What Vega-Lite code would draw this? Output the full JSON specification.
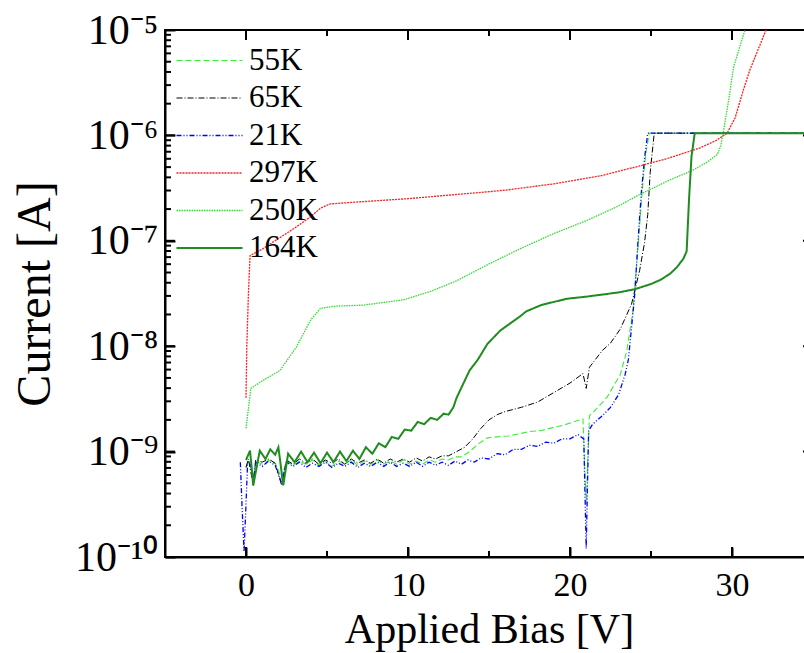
{
 "$schema": "https://vega.github.io/schema/vega-lite/v6.json",
 "width": 648, "height": 527,
 "autosize": "none",
 "padding": {"left": 165, "top": 30, "right": -9, "bottom": 96},
 "background": "white",
 "config": {
  "view": {"stroke": "black", "strokeWidth": 2},
  "font": "Liberation Serif",
  "legend": {"orient": "none", "legendX": 29, "legendY": 15, "symbolType": "M-3,0H3", "symbolSize": 484, "labelFontSize": 31, "labelFont": "Liberation Serif", "labelColor": "black", "rowPadding": 5.5, "padding": 0, "labelOffset": 24, "labelLimit": 200}
 },
 "datasets": {
  "curves": [
  {"s":"55K","v":0.0,"i":7.08e-10},{"s":"55K","v":0.15,"i":8.32e-10},{"s":"55K","v":0.45,"i":5.62e-10},{"s":"55K","v":0.6,"i":8.13e-10},{"s":"55K","v":1.0,"i":7.59e-10},{"s":"55K","v":1.4,"i":8.32e-10},{"s":"55K","v":1.8,"i":7.76e-10},{"s":"55K","v":2.2,"i":5.62e-10},{"s":"55K","v":2.5,"i":8.13e-10},{"s":"55K","v":2.9,"i":7.41e-10},{"s":"55K","v":3.3,"i":8.13e-10},{"s":"55K","v":3.7,"i":7.59e-10},{"s":"55K","v":4.1,"i":8.32e-10},{"s":"55K","v":4.5,"i":7.41e-10},{"s":"55K","v":4.9,"i":8.13e-10},{"s":"55K","v":5.3,"i":7.24e-10},{"s":"55K","v":5.7,"i":8.13e-10},{"s":"55K","v":6.1,"i":7.59e-10},{"s":"55K","v":6.5,"i":8.32e-10},{"s":"55K","v":6.9,"i":7.41e-10},{"s":"55K","v":7.3,"i":8.13e-10},{"s":"55K","v":7.7,"i":7.59e-10},{"s":"55K","v":8.1,"i":8.32e-10},{"s":"55K","v":8.5,"i":7.59e-10},{"s":"55K","v":8.9,"i":8.13e-10},{"s":"55K","v":9.3,"i":7.59e-10},{"s":"55K","v":9.7,"i":8.32e-10},{"s":"55K","v":10.1,"i":7.59e-10},{"s":"55K","v":10.5,"i":8.13e-10},{"s":"55K","v":10.9,"i":7.59e-10},{"s":"55K","v":11.3,"i":8.32e-10},{"s":"55K","v":11.7,"i":7.94e-10},{"s":"55K","v":12.1,"i":8.51e-10},{"s":"55K","v":12.5,"i":8.32e-10},{"s":"55K","v":12.9,"i":8.91e-10},{"s":"55K","v":13.3,"i":8.91e-10},{"s":"55K","v":13.8,"i":1.0e-9},{"s":"55K","v":14.3,"i":1.17e-9},{"s":"55K","v":14.9,"i":1.35e-9},{"s":"55K","v":15.5,"i":1.38e-9},{"s":"55K","v":16.2,"i":1.41e-9},{"s":"55K","v":16.9,"i":1.48e-9},{"s":"55K","v":17.5,"i":1.55e-9},{"s":"55K","v":18.2,"i":1.58e-9},{"s":"55K","v":19.0,"i":1.70e-9},{"s":"55K","v":19.6,"i":1.78e-9},{"s":"55K","v":20.2,"i":1.91e-9},{"s":"55K","v":20.8,"i":2.04e-9},{"s":"55K","v":21.0,"i":3.16e-10},{"s":"55K","v":21.2,"i":2.19e-9},{"s":"55K","v":21.6,"i":2.51e-9},{"s":"55K","v":22.3,"i":3.31e-9},{"s":"55K","v":23.1,"i":5.37e-9},{"s":"55K","v":23.5,"i":8.91e-9},{"s":"55K","v":23.9,"i":2.24e-8},{"s":"55K","v":24.1,"i":5.62e-8},{"s":"55K","v":24.3,"i":1.41e-7},{"s":"55K","v":24.5,"i":3.55e-7},{"s":"55K","v":24.7,"i":7.08e-7},{"s":"55K","v":24.9,"i":1.05e-6},{"s":"55K","v":35,"i":1.05e-6},
  {"s":"65K","v":0.0,"i":7.08e-10},{"s":"65K","v":0.15,"i":8.51e-10},{"s":"65K","v":0.45,"i":4.79e-10},{"s":"65K","v":0.6,"i":8.32e-10},{"s":"65K","v":1.0,"i":7.94e-10},{"s":"65K","v":1.4,"i":8.51e-10},{"s":"65K","v":1.8,"i":7.76e-10},{"s":"65K","v":2.2,"i":4.79e-10},{"s":"65K","v":2.5,"i":8.32e-10},{"s":"65K","v":2.9,"i":7.59e-10},{"s":"65K","v":3.3,"i":8.51e-10},{"s":"65K","v":3.7,"i":7.76e-10},{"s":"65K","v":4.1,"i":8.51e-10},{"s":"65K","v":4.5,"i":7.59e-10},{"s":"65K","v":4.9,"i":8.32e-10},{"s":"65K","v":5.3,"i":7.76e-10},{"s":"65K","v":5.7,"i":8.51e-10},{"s":"65K","v":6.1,"i":7.59e-10},{"s":"65K","v":6.5,"i":8.51e-10},{"s":"65K","v":6.9,"i":7.76e-10},{"s":"65K","v":7.3,"i":8.32e-10},{"s":"65K","v":7.7,"i":7.76e-10},{"s":"65K","v":8.1,"i":8.51e-10},{"s":"65K","v":8.5,"i":7.76e-10},{"s":"65K","v":8.9,"i":8.51e-10},{"s":"65K","v":9.3,"i":7.94e-10},{"s":"65K","v":9.7,"i":8.51e-10},{"s":"65K","v":10.1,"i":7.94e-10},{"s":"65K","v":10.5,"i":8.71e-10},{"s":"65K","v":10.9,"i":8.13e-10},{"s":"65K","v":11.3,"i":8.91e-10},{"s":"65K","v":11.7,"i":8.51e-10},{"s":"65K","v":12.1,"i":9.12e-10},{"s":"65K","v":12.5,"i":9.12e-10},{"s":"65K","v":13.0,"i":1.0e-9},{"s":"65K","v":13.5,"i":1.10e-9},{"s":"65K","v":14.0,"i":1.32e-9},{"s":"65K","v":14.5,"i":1.66e-9},{"s":"65K","v":15.0,"i":2.0e-9},{"s":"65K","v":15.5,"i":2.24e-9},{"s":"65K","v":16.0,"i":2.40e-9},{"s":"65K","v":17.0,"i":2.63e-9},{"s":"65K","v":18.0,"i":2.95e-9},{"s":"65K","v":19.0,"i":3.63e-9},{"s":"65K","v":20.0,"i":4.47e-9},{"s":"65K","v":20.8,"i":5.50e-9},{"s":"65K","v":21.0,"i":3.98e-9},{"s":"65K","v":21.2,"i":6.31e-9},{"s":"65K","v":22.0,"i":9.12e-9},{"s":"65K","v":22.5,"i":1.07e-8},{"s":"65K","v":23.1,"i":1.45e-8},{"s":"65K","v":23.8,"i":2.51e-8},{"s":"65K","v":24.3,"i":5.25e-8},{"s":"65K","v":24.6,"i":9.55e-8},{"s":"65K","v":24.8,"i":1.78e-7},{"s":"65K","v":24.95,"i":4.47e-7},{"s":"65K","v":25.2,"i":1.05e-6},{"s":"65K","v":35,"i":1.05e-6},
  {"s":"21K","v":-0.35,"i":7.94e-10},{"s":"21K","v":-0.25,"i":3.16e-10},{"s":"21K","v":-0.12,"i":1.12e-10},{"s":"21K","v":0.0,"i":3.16e-10},{"s":"21K","v":0.1,"i":7.94e-10},{"s":"21K","v":0.3,"i":7.41e-10},{"s":"21K","v":0.45,"i":5.01e-10},{"s":"21K","v":0.6,"i":7.94e-10},{"s":"21K","v":1.0,"i":7.24e-10},{"s":"21K","v":1.4,"i":8.13e-10},{"s":"21K","v":1.8,"i":7.41e-10},{"s":"21K","v":2.2,"i":5.01e-10},{"s":"21K","v":2.5,"i":7.94e-10},{"s":"21K","v":2.9,"i":7.24e-10},{"s":"21K","v":3.3,"i":7.94e-10},{"s":"21K","v":3.7,"i":7.08e-10},{"s":"21K","v":4.1,"i":7.76e-10},{"s":"21K","v":4.5,"i":7.24e-10},{"s":"21K","v":4.9,"i":7.94e-10},{"s":"21K","v":5.3,"i":7.08e-10},{"s":"21K","v":5.7,"i":7.76e-10},{"s":"21K","v":6.1,"i":7.24e-10},{"s":"21K","v":6.5,"i":7.94e-10},{"s":"21K","v":6.9,"i":7.08e-10},{"s":"21K","v":7.3,"i":7.76e-10},{"s":"21K","v":7.7,"i":7.24e-10},{"s":"21K","v":8.1,"i":7.94e-10},{"s":"21K","v":8.5,"i":7.24e-10},{"s":"21K","v":8.9,"i":7.94e-10},{"s":"21K","v":9.3,"i":7.24e-10},{"s":"21K","v":9.7,"i":7.76e-10},{"s":"21K","v":10.1,"i":7.24e-10},{"s":"21K","v":10.5,"i":7.94e-10},{"s":"21K","v":10.9,"i":7.24e-10},{"s":"21K","v":11.3,"i":7.94e-10},{"s":"21K","v":11.7,"i":7.41e-10},{"s":"21K","v":12.1,"i":7.94e-10},{"s":"21K","v":12.5,"i":7.41e-10},{"s":"21K","v":12.9,"i":8.13e-10},{"s":"21K","v":13.3,"i":7.59e-10},{"s":"21K","v":13.7,"i":8.32e-10},{"s":"21K","v":14.1,"i":7.94e-10},{"s":"21K","v":14.5,"i":8.71e-10},{"s":"21K","v":15.0,"i":8.51e-10},{"s":"21K","v":15.5,"i":9.55e-10},{"s":"21K","v":16.0,"i":9.33e-10},{"s":"21K","v":16.5,"i":1.05e-9},{"s":"21K","v":17.0,"i":1.05e-9},{"s":"21K","v":17.5,"i":1.15e-9},{"s":"21K","v":18.0,"i":1.12e-9},{"s":"21K","v":18.5,"i":1.23e-9},{"s":"21K","v":19.0,"i":1.20e-9},{"s":"21K","v":19.5,"i":1.32e-9},{"s":"21K","v":20.0,"i":1.32e-9},{"s":"21K","v":20.5,"i":1.45e-9},{"s":"21K","v":20.85,"i":1.32e-9},{"s":"21K","v":21.0,"i":1.20e-10},{"s":"21K","v":21.15,"i":1.58e-9},{"s":"21K","v":21.4,"i":1.82e-9},{"s":"21K","v":22.0,"i":2.19e-9},{"s":"21K","v":22.5,"i":2.63e-9},{"s":"21K","v":23.0,"i":3.47e-9},{"s":"21K","v":23.4,"i":5.37e-9},{"s":"21K","v":23.6,"i":7.41e-9},{"s":"21K","v":23.8,"i":1.51e-8},{"s":"21K","v":24.0,"i":3.16e-8},{"s":"21K","v":24.2,"i":1.0e-7},{"s":"21K","v":24.4,"i":2.82e-7},{"s":"21K","v":24.6,"i":6.03e-7},{"s":"21K","v":24.8,"i":1.05e-6},{"s":"21K","v":35,"i":1.05e-6},
  {"s":"297K","v":0.0,"i":3.24e-9},{"s":"297K","v":0.05,"i":1.0e-8},{"s":"297K","v":0.15,"i":3.16e-8},{"s":"297K","v":0.25,"i":7.24e-8},{"s":"297K","v":1.0,"i":8.32e-8},{"s":"297K","v":2.0,"i":1.05e-7},{"s":"297K","v":3.0,"i":1.32e-7},{"s":"297K","v":4.0,"i":1.70e-7},{"s":"297K","v":4.6,"i":2.04e-7},{"s":"297K","v":5.2,"i":2.24e-7},{"s":"297K","v":7.0,"i":2.34e-7},{"s":"297K","v":10.0,"i":2.51e-7},{"s":"297K","v":13.0,"i":2.75e-7},{"s":"297K","v":16.0,"i":3.02e-7},{"s":"297K","v":19.0,"i":3.47e-7},{"s":"297K","v":22.0,"i":4.17e-7},{"s":"297K","v":24.3,"i":5.13e-7},{"s":"297K","v":26.0,"i":6.03e-7},{"s":"297K","v":28.0,"i":7.59e-7},{"s":"297K","v":29.0,"i":8.91e-7},{"s":"297K","v":29.7,"i":1.05e-6},{"s":"297K","v":30.2,"i":1.48e-6},{"s":"297K","v":30.7,"i":2.69e-6},{"s":"297K","v":31.1,"i":4.17e-6},{"s":"297K","v":31.6,"i":6.46e-6},{"s":"297K","v":32.1,"i":1.0e-5},{"s":"297K","v":32.5,"i":1.41e-5},
  {"s":"250K","v":0.0,"i":1.66e-9},{"s":"250K","v":0.3,"i":3.98e-9},{"s":"250K","v":1.0,"i":4.68e-9},{"s":"250K","v":2.1,"i":5.89e-9},{"s":"250K","v":3.1,"i":9.77e-9},{"s":"250K","v":4.0,"i":1.78e-8},{"s":"250K","v":4.6,"i":2.29e-8},{"s":"250K","v":5.5,"i":2.40e-8},{"s":"250K","v":7.2,"i":2.45e-8},{"s":"250K","v":9.7,"i":2.75e-8},{"s":"250K","v":11.4,"i":3.31e-8},{"s":"250K","v":13.0,"i":4.17e-8},{"s":"250K","v":15.0,"i":6.03e-8},{"s":"250K","v":17.0,"i":8.51e-8},{"s":"250K","v":19.0,"i":1.17e-7},{"s":"250K","v":21.0,"i":1.55e-7},{"s":"250K","v":23.0,"i":2.14e-7},{"s":"250K","v":24.3,"i":2.75e-7},{"s":"250K","v":26.2,"i":3.80e-7},{"s":"250K","v":27.6,"i":4.68e-7},{"s":"250K","v":28.5,"i":5.62e-7},{"s":"250K","v":29.1,"i":6.61e-7},{"s":"250K","v":29.3,"i":7.94e-7},{"s":"250K","v":29.45,"i":1.05e-6},{"s":"250K","v":29.8,"i":2.19e-6},{"s":"250K","v":30.1,"i":4.47e-6},{"s":"250K","v":30.8,"i":1.0e-5},{"s":"250K","v":31.1,"i":1.26e-5},
  {"s":"164K","v":0.0,"i":8.32e-10},{"s":"164K","v":0.25,"i":1.02e-9},{"s":"164K","v":0.45,"i":4.79e-10},{"s":"164K","v":0.85,"i":1.02e-9},{"s":"164K","v":1.2,"i":8.51e-10},{"s":"164K","v":1.5,"i":1.05e-9},{"s":"164K","v":1.8,"i":9.33e-10},{"s":"164K","v":2.0,"i":1.10e-9},{"s":"164K","v":2.3,"i":4.79e-10},{"s":"164K","v":2.6,"i":9.55e-10},{"s":"164K","v":3.0,"i":7.94e-10},{"s":"164K","v":3.4,"i":1.0e-9},{"s":"164K","v":3.8,"i":7.94e-10},{"s":"164K","v":4.2,"i":9.77e-10},{"s":"164K","v":4.6,"i":7.76e-10},{"s":"164K","v":5.0,"i":9.77e-10},{"s":"164K","v":5.4,"i":7.94e-10},{"s":"164K","v":5.8,"i":1.0e-9},{"s":"164K","v":6.2,"i":8.13e-10},{"s":"164K","v":6.6,"i":1.02e-9},{"s":"164K","v":7.0,"i":8.51e-10},{"s":"164K","v":7.4,"i":1.10e-9},{"s":"164K","v":7.8,"i":9.55e-10},{"s":"164K","v":8.2,"i":1.20e-9},{"s":"164K","v":8.6,"i":1.10e-9},{"s":"164K","v":9.0,"i":1.38e-9},{"s":"164K","v":9.4,"i":1.32e-9},{"s":"164K","v":9.8,"i":1.62e-9},{"s":"164K","v":10.2,"i":1.58e-9},{"s":"164K","v":10.6,"i":1.91e-9},{"s":"164K","v":11.0,"i":1.82e-9},{"s":"164K","v":11.4,"i":2.09e-9},{"s":"164K","v":11.8,"i":2.0e-9},{"s":"164K","v":12.2,"i":2.29e-9},{"s":"164K","v":12.5,"i":2.24e-9},{"s":"164K","v":12.8,"i":2.63e-9},{"s":"164K","v":13.0,"i":3.24e-9},{"s":"164K","v":13.8,"i":5.89e-9},{"s":"164K","v":14.3,"i":7.41e-9},{"s":"164K","v":14.9,"i":1.05e-8},{"s":"164K","v":15.7,"i":1.41e-8},{"s":"164K","v":16.9,"i":1.91e-8},{"s":"164K","v":17.3,"i":2.14e-8},{"s":"164K","v":18.2,"i":2.45e-8},{"s":"164K","v":19.0,"i":2.63e-8},{"s":"164K","v":19.8,"i":2.82e-8},{"s":"164K","v":21.0,"i":2.95e-8},{"s":"164K","v":22.0,"i":3.09e-8},{"s":"164K","v":23.0,"i":3.24e-8},{"s":"164K","v":24.0,"i":3.47e-8},{"s":"164K","v":25.0,"i":3.89e-8},{"s":"164K","v":25.6,"i":4.27e-8},{"s":"164K","v":26.2,"i":4.90e-8},{"s":"164K","v":26.6,"i":5.62e-8},{"s":"164K","v":27.0,"i":6.76e-8},{"s":"164K","v":27.2,"i":7.94e-8},{"s":"164K","v":27.35,"i":2.51e-7},{"s":"164K","v":27.5,"i":6.31e-7},{"s":"164K","v":27.7,"i":1.05e-6},{"s":"164K","v":35,"i":1.05e-6}
  ],
  "xmajor": [{"t":0},{"t":10},{"t":20},{"t":30}],
  "xminor": [{"t":5},{"t":15},{"t":25}],
  "ymajor": [{"t":1e-9},{"t":1e-8},{"t":1e-7},{"t":1e-6}],
  "yminor": [{"t":2e-10},{"t":3e-10},{"t":4e-10},{"t":5e-10},{"t":6e-10},{"t":7e-10},{"t":8e-10},{"t":9e-10},{"t":2e-9},{"t":3e-9},{"t":4e-9},{"t":5e-9},{"t":6e-9},{"t":7e-9},{"t":8e-9},{"t":9e-9},{"t":2e-8},{"t":3e-8},{"t":4e-8},{"t":5e-8},{"t":6e-8},{"t":7e-8},{"t":8e-8},{"t":9e-8},{"t":2e-7},{"t":3e-7},{"t":4e-7},{"t":5e-7},{"t":6e-7},{"t":7e-7},{"t":8e-7},{"t":9e-7},{"t":2e-6},{"t":3e-6},{"t":4e-6},{"t":5e-6},{"t":6e-6},{"t":7e-6},{"t":8e-6},{"t":9e-6}]
 },
 "layer": [
  {
   "data": {"name": "curves"},
   "mark": {"type": "line", "clip": true, "strokeCap": "butt"},
   "encoding": {
    "x": {"field": "v", "type": "quantitative",
      "scale": {"domain": [-5, 35], "nice": false, "zero": false},
      "axis": {"orient": "bottom", "values": [0,10,20,30], "tickSize": -10, "tickColor": "#000000", "tickWidth": 2, "domainColor": "#000000", "domainWidth": 2, "grid": false,
        "labelFontSize": 34, "labelFont": "Liberation Serif", "labelColor": "black", "labelPadding": 21,
        "labelFlush": false, "labelOverlap": false,
        "title": "Applied Bias [V]", "titleFontSize": 42, "titleFont": "Liberation Serif", "titleFontWeight": "normal", "titleColor": "black", "titlePadding": 7}},
    "y": {"field": "i", "type": "quantitative",
      "scale": {"type": "log", "domain": [1e-10, 1e-5], "nice": false},
      "axis": {"orient": "left", "tickSize": -10, "tickColor": "#000000", "tickWidth": 2, "domainColor": "#000000", "domainWidth": 2, "grid": false,
        "values": [1e-10,1e-9,1e-8,1e-7,1e-6,1e-5],
        "labelExpr": "round(log(datum.value)/LN10) == -5 ? '10⁻⁵' : round(log(datum.value)/LN10) == -6 ? '10⁻⁶' : round(log(datum.value)/LN10) == -7 ? '10⁻⁷' : round(log(datum.value)/LN10) == -8 ? '10⁻⁸' : round(log(datum.value)/LN10) == -9 ? '10⁻⁹' : '10⁻¹⁰'",
        "labelFontSize": 42, "labelFont": "Liberation Serif", "labelColor": "black", "labelPadding": 17,
        "labelFlush": false, "labelOverlap": false,
        "title": "Current [A]", "titleFontSize": 48, "titleFont": "Liberation Serif", "titleFontWeight": "normal", "titleColor": "black", "titlePadding": 15}},
    "color": {"field": "s", "type": "nominal", "title": null,
      "scale": {"domain": ["55K","65K","21K","297K","250K","164K"], "range": ["#3cec3c","#000000","#0000ff","#ff2020","#30dc30","#1f8c1f"]}},
    "strokeDash": {"field": "s", "type": "nominal", "title": null,
      "scale": {"domain": ["55K","65K","21K","297K","250K","164K"], "range": [[6,3],[6,2,1,2],[5,2,1,2,1,2],[2,1],[1.5,1],[1,0]]}},
    "strokeWidth": {"field": "s", "type": "nominal", "title": null,
      "scale": {"type": "ordinal", "domain": ["55K","65K","21K","297K","250K","164K"], "range": [1.1,1,1.3,1.3,1.3,2]}}
   }
  },
  {
   "data": {"name": "xmajor"},
   "mark": {"type": "tick", "orient": "vertical", "size": 20, "thickness": 2, "color": "black", "opacity": 1, "clip": true},
   "encoding": {"x": {"field": "t", "type": "quantitative", "axis": null}, "y": {"datum": 1e-10, "type": "quantitative", "axis": null}}
  },
  {
   "data": {"name": "xmajor"},
   "mark": {"type": "tick", "orient": "vertical", "size": 20, "thickness": 2, "color": "black", "opacity": 1, "clip": true},
   "encoding": {"x": {"field": "t", "type": "quantitative", "axis": null}, "y": {"datum": 1e-5, "type": "quantitative", "axis": null}}
  },
  {
   "data": {"name": "xminor"},
   "mark": {"type": "tick", "orient": "vertical", "size": 12, "thickness": 2, "color": "black", "opacity": 1, "clip": true},
   "encoding": {"x": {"field": "t", "type": "quantitative", "axis": null}, "y": {"datum": 1e-10, "type": "quantitative", "axis": null}}
  },
  {
   "data": {"name": "xminor"},
   "mark": {"type": "tick", "orient": "vertical", "size": 12, "thickness": 2, "color": "black", "opacity": 1, "clip": true},
   "encoding": {"x": {"field": "t", "type": "quantitative", "axis": null}, "y": {"datum": 1e-5, "type": "quantitative", "axis": null}}
  },
  {
   "data": {"name": "ymajor"},
   "mark": {"type": "tick", "orient": "horizontal", "size": 20, "thickness": 2, "color": "black", "opacity": 1, "clip": true},
   "encoding": {"y": {"field": "t", "type": "quantitative", "axis": null}, "x": {"datum": -5, "type": "quantitative", "axis": null}}
  },
  {
   "data": {"name": "yminor"},
   "mark": {"type": "tick", "orient": "horizontal", "size": 12, "thickness": 2, "color": "black", "opacity": 1, "clip": true},
   "encoding": {"y": {"field": "t", "type": "quantitative", "axis": null}, "x": {"datum": -5, "type": "quantitative", "axis": null}}
  },
  {
   "data": {"name": "ymajor"},
   "mark": {"type": "tick", "orient": "horizontal", "size": 20, "thickness": 2, "color": "black", "opacity": 1, "clip": true},
   "encoding": {"y": {"field": "t", "type": "quantitative", "axis": null}, "x": {"datum": 35, "type": "quantitative", "axis": null}}
  }
 ],
 "resolve": {"axis": {"x": "independent", "y": "independent"}}
}
